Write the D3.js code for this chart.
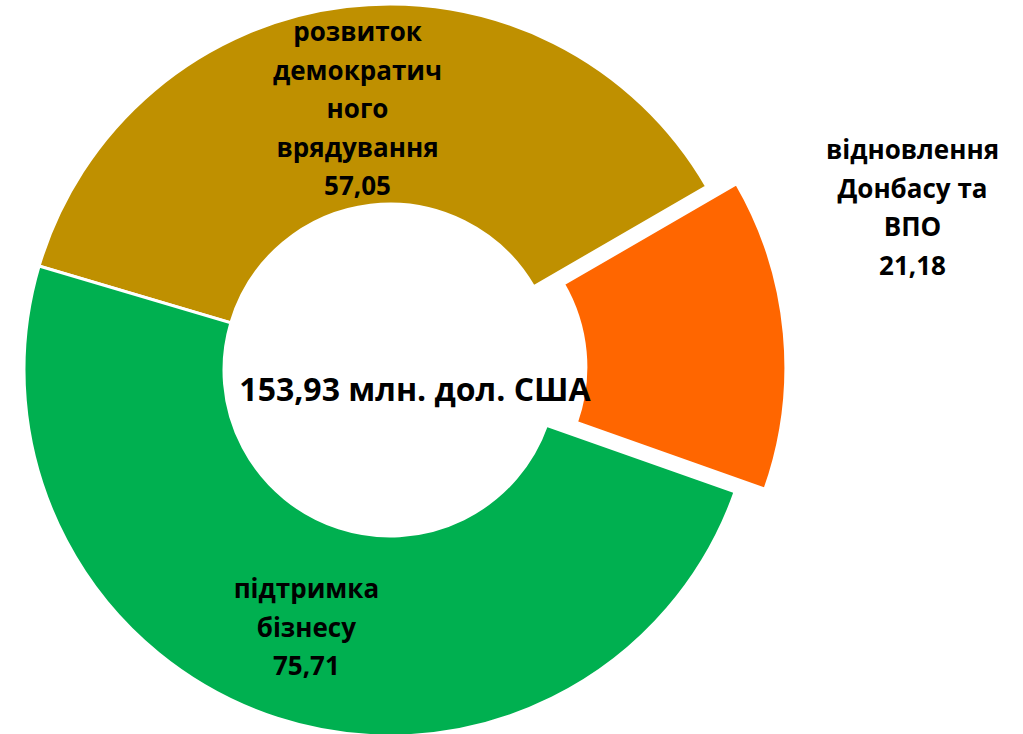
<!DOCTYPE html>
<html>
<head>
<meta charset="utf-8">
<script src="https://cdn.jsdelivr.net/npm/d3@7"></script>
<style>
  html, body { margin: 0; padding: 0; background: #fff; }
  svg { display: block; }
</style>
</head>
<body>
<div id="chart"></div>
<script>
// ---- data ----
const categories = ["розвиток демократичного врядування", "відновлення Донбасу та ВПО", "підтримка бізнесу"];
const values = [57.05, 21.18, 75.71];
const valueLabels = ["57,05", "21,18", "75,71"];
const labelLines = [
  ["розвиток", "демократич", "ного", "врядування"],
  ["відновлення", "Донбасу та", "ВПО"],
  ["підтримка", "бізнесу"]
];
const totalLabel = "153,93 млн. дол. США";

// ---- style ----
const colors = ["#BF9000", "#FF6600", "#00B050"];
const explode = [0, 30, 0];
const labelRadius = [263, 547, 271];
const labelAngleShift = [-0.3, -11.9, 0]; // degrees
const W = 1023, H = 734;
const cx = 390, cy = 370;
const rOuter = 366, rInner = 166;
const startDeg = -73.5;
const lineH = 38.5;
const font = "'Open Sans', 'DejaVu Sans', sans-serif";

const svg = d3.select("#chart").append("svg").attr("width", W).attr("height", H);
const g = svg.append("g").attr("transform", `translate(${cx},${cy})`);

const start = startDeg * Math.PI / 180;
const pie = d3.pie().sort(null).value(d => d).startAngle(start).endAngle(start + 2 * Math.PI);
const arcs = pie(values);
const arc = d3.arc().innerRadius(rInner).outerRadius(rOuter);

g.selectAll("path.slice").data(arcs).join("path")
  .attr("class", "slice")
  .attr("d", arc)
  .attr("fill", (d, i) => colors[i])
  .attr("stroke", "#fff")
  .attr("stroke-width", 3)
  .attr("stroke-linejoin", "miter")
  .attr("transform", (d, i) => {
    const m = (d.startAngle + d.endAngle) / 2;
    return `translate(${Math.sin(m) * explode[i]},${-Math.cos(m) * explode[i]})`;
  });

// labels
arcs.forEach((d, i) => {
  const m = (d.startAngle + d.endAngle) / 2 + labelAngleShift[i] * Math.PI / 180;
  const lx = Math.sin(m) * labelRadius[i];
  const ly = -Math.cos(m) * labelRadius[i];
  const lines = labelLines[i].concat([valueLabels[i]]);
  const n = lines.length;
  const t = g.append("text")
    .attr("text-anchor", "middle")
    .attr("font-family", font)
    .attr("font-weight", 700)
    .attr("font-size", 26)
    .attr("fill", "#000");
  lines.forEach((s, k) => {
    t.append("tspan")
      .attr("x", lx)
      .attr("y", ly + (k - (n - 1) / 2) * lineH + 9)
      .text(s);
  });
});

// center total
g.append("text")
  .attr("x", 25).attr("y", 31)
  .attr("text-anchor", "middle")
  .attr("font-family", font)
  .attr("font-weight", 700)
  .attr("font-size", 32)
  .attr("fill", "#000")
  .text(totalLabel);
</script>
</body>
</html>
